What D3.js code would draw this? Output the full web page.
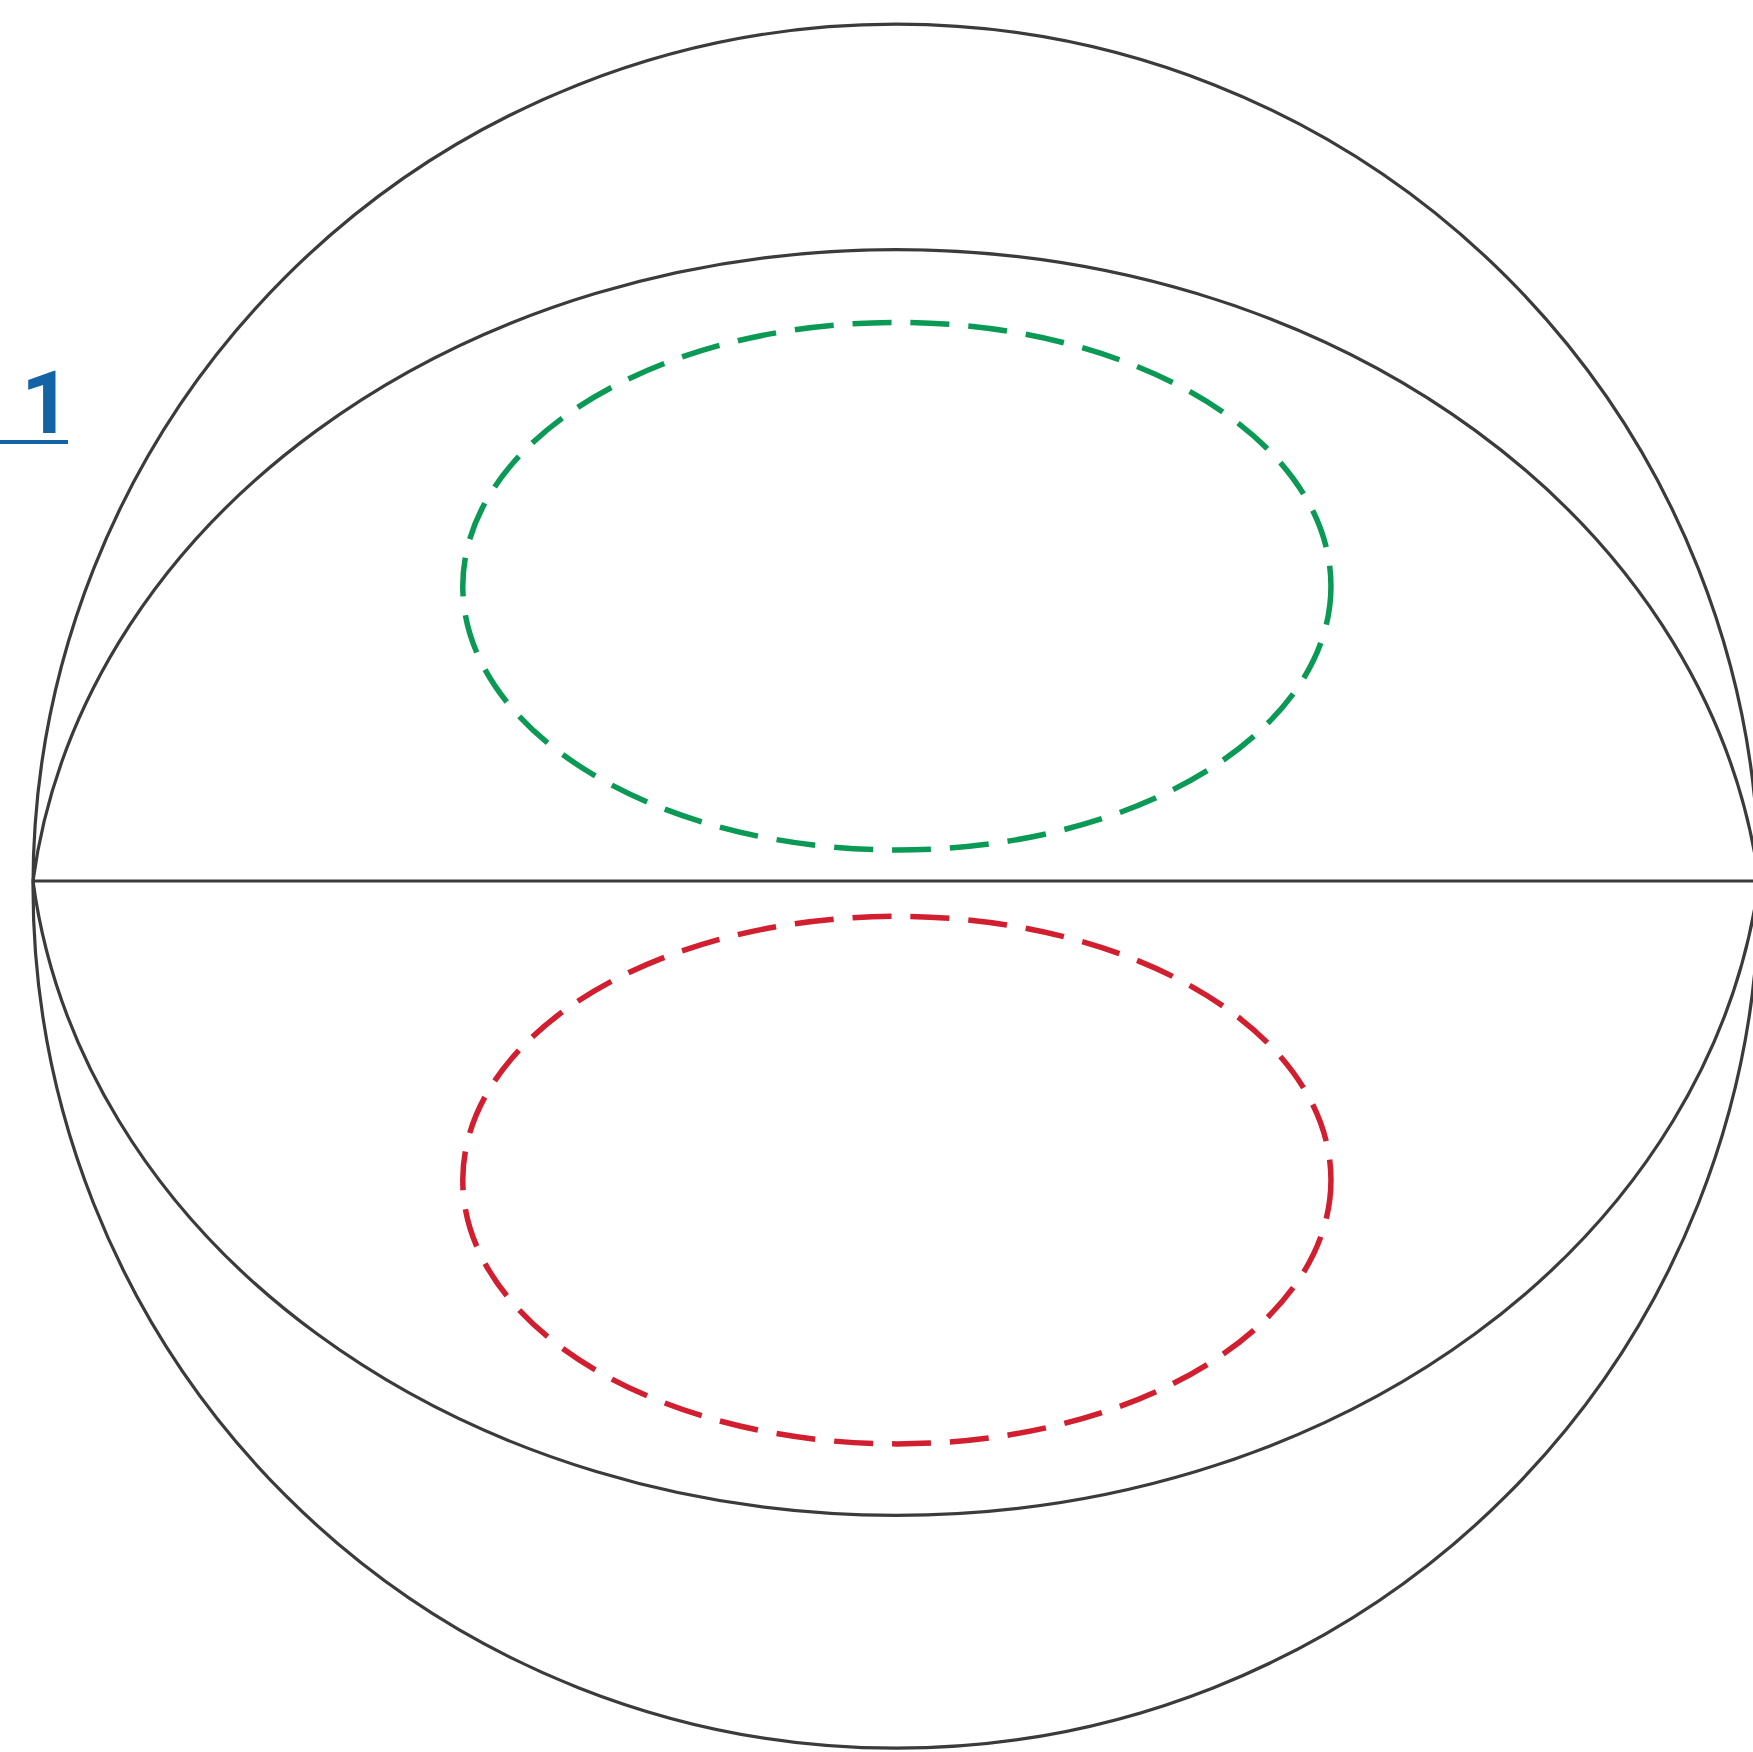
<!DOCTYPE html>
<html>
<head>
<meta charset="utf-8">
<script src="https://cdn.jsdelivr.net/npm/d3@7"></script>
<style>
  body { margin: 0; background: #fff; }
</style>
</head>
<body>
<div id="chart"></div>
<script>
// Shapes in unit-sphere coordinates
const outline = [0, -0.006, 1, 1];          // cx, cy, rx, ry
const lensArcs = [                          // rx, ry of the upper / lower elliptical arcs
    { side: "upper", rx: 1.006, ry: 0.822 },
    { side: "lower", rx: 1.006, ry: 0.826 }
];
const equator = [[-1, 0], [1, 0]];
const loops = [
    { name: "upper", c: [0.001, 0.342, 0.503, 0.306], color: "#0a9a55" },
    { name: "lower", c: [0.001, -0.347, 0.503, 0.306], color: "#d11f30" }
];
const label = "1";

const width = 1753, height = 1752;

const svg = d3.select("#chart")
    .append("svg")
    .attr("width", width)
    .attr("height", height);

// Scales from sphere units to pixels
const x = d3.scaleLinear().domain([-1, 1]).range([33, 33 + 2 * 863]);
const y = d3.scaleLinear().domain([1, -1]).range([881 - 862, 881 + 862]);
const sx = d => x(d) - x(0);
const sy = d => y(0) - y(d);

// Outer circle
svg.append("ellipse")
    .attr("cx", x(outline[0]))
    .attr("cy", y(outline[1]))
    .attr("rx", sx(outline[2]))
    .attr("ry", sy(outline[3]))
    .attr("fill", "none")
    .attr("stroke", "#3b3b3b")
    .attr("stroke-width", 3.2);

// Lens-shaped great circle: two elliptical arcs joining the equator ends
svg.selectAll(".lens")
    .data(lensArcs)
    .enter().append("path")
    .attr("class", "lens")
    .attr("d", d => {
        const a = d.side === "upper" ? equator[0] : equator[1];
        const b = d.side === "upper" ? equator[1] : equator[0];
        return `M${x(a[0])},${y(a[1])} A${sx(d.rx)},${sy(d.ry)} 0 0 1 ${x(b[0])},${y(b[1])}`;
    })
    .attr("fill", "none")
    .attr("stroke", "#3b3b3b")
    .attr("stroke-width", 3.2);

// Equator
svg.append("line")
    .attr("x1", x(equator[0][0]))
    .attr("y1", y(equator[0][1]))
    .attr("x2", x(equator[1][0]))
    .attr("y2", y(equator[1][1]))
    .attr("stroke", "#3b3b3b")
    .attr("stroke-width", 3.2);

// Dashed loops
svg.selectAll(".loop")
    .data(loops)
    .enter().append("ellipse")
    .attr("class", "loop")
    .attr("cx", d => x(d.c[0]))
    .attr("cy", d => y(d.c[1]))
    .attr("rx", d => sx(d.c[2]))
    .attr("ry", d => sy(d.c[3]))
    .attr("fill", "none")
    .attr("stroke", d => d.color)
    .attr("stroke-width", 5.5)
    .attr("stroke-dasharray", "39,19");

// Panel label
svg.append("text")
    .attr("x", 21)
    .attr("y", 433)
    .style("font-family", "Roboto, 'Noto Sans', sans-serif")
    .style("font-weight", "bold")
    .style("font-size", "88px")
    .attr("fill", "#1464a5")
    .text(label);

svg.append("line")
    .attr("x1", 0)
    .attr("x2", 68)
    .attr("y1", 442)
    .attr("y2", 442)
    .attr("stroke", "#1464a5")
    .attr("stroke-width", 4);
</script>
</body>
</html>
